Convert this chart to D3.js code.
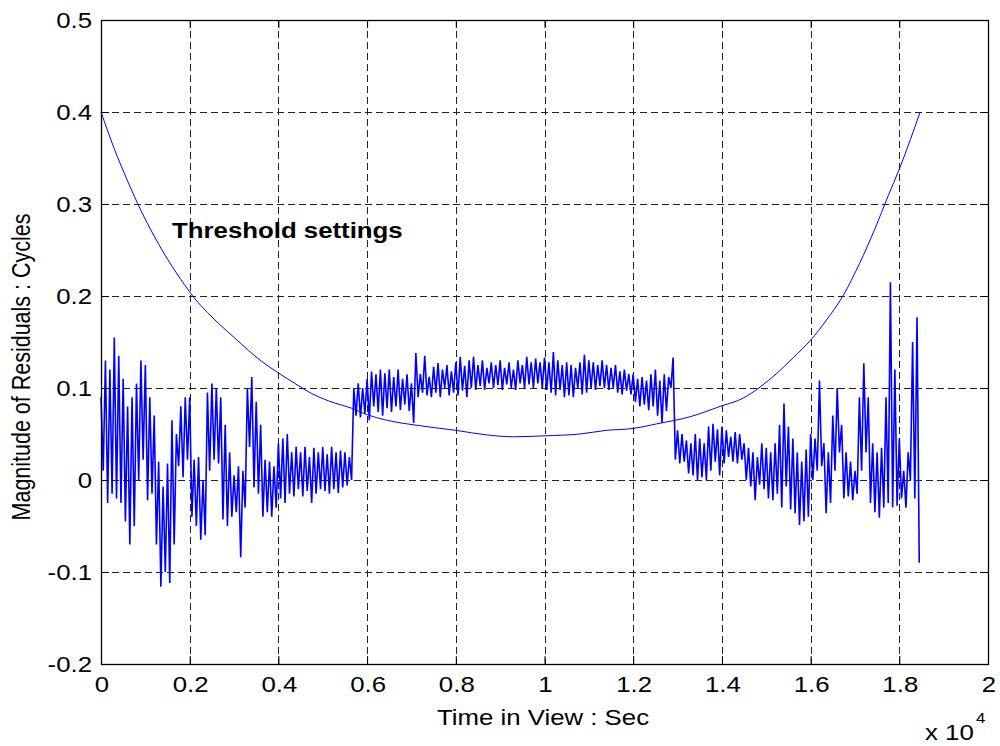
<!DOCTYPE html>
<html>
<head>
<meta charset="utf-8">
<script src="https://cdn.jsdelivr.net/npm/d3@7"></script>
<style>
  body { margin: 0; background: #fff; }
  text { font-family: "Liberation Sans", Arial, Helvetica, sans-serif; fill: #000; }
</style>
</head>
<body>
<svg id="chart" width="1000" height="746"></svg>
<script>
// Axis ticks (time axis in units of 10^4 s)
const xTicks = [0, 0.2, 0.4, 0.6, 0.8, 1, 1.2, 1.4, 1.6, 1.8, 2];
const xTickLabels = ["0", "0.2", "0.4", "0.6", "0.8", "1", "1.2", "1.4", "1.6", "1.8", "2"];
const yTicks = [-0.2, -0.1, 0, 0.1, 0.2, 0.3, 0.4, 0.5];
const yTickLabels = ["-0.2", "-0.1", "0", "0.1", "0.2", "0.3", "0.4", "0.5"];

// Residual magnitude samples (cycles), one every 50 s
const sampleStep = 0.005; // x 10^4 s
const residuals = [
  0.09, 0.01, 0.13, -0.025, 0.12, -0.015, 0.155, -0.02, 0.135, -0.025,
  0.11, -0.045, 0.08, -0.07, 0.09, -0.05, 0.105, 0.0, 0.13, 0.022,
  0.125, -0.022, 0.09, -0.015, 0.07, -0.07, 0.02, -0.116, -0.007, -0.1,
  0.018, -0.112, 0.065, -0.07, 0.05, 0.015, 0.08, 0.003, 0.09, 0.022,
  0.09, -0.04, 0.022, -0.05, 0.025, -0.065, 0.0, -0.06, 0.095, 0.01,
  0.105, 0.022, 0.1, 0.018, 0.09, -0.043, 0.06, -0.05, 0.03, -0.04,
  0.005, -0.035, 0.015, -0.084, 0.01, -0.03, 0.1, 0.036, 0.112, -0.008,
  0.085, -0.015, 0.06, -0.04, 0.022, -0.035, 0.02, -0.04, 0.015, -0.03,
  0.04, -0.02, 0.045, -0.025, 0.05, -0.015, 0.03, -0.018, 0.036, -0.01,
  0.03, -0.018, 0.036, -0.012, 0.025, -0.025, 0.035, -0.015, 0.03, -0.01,
  0.036, -0.012, 0.028, -0.015, 0.036, -0.01, 0.03, -0.014, 0.032, -0.008,
  0.03, -0.006, 0.025, 0.0,
  0.1, 0.07, 0.105, 0.068, 0.1, 0.072,
  0.11, 0.065, 0.118, 0.08, 0.115, 0.074, 0.12, 0.07, 0.116, 0.078,
  0.12, 0.074, 0.112, 0.08, 0.12, 0.076, 0.11, 0.082, 0.115, 0.075,
  0.105, 0.062, 0.138, 0.09, 0.115, 0.095, 0.135, 0.092, 0.112, 0.09,
  0.123, 0.095, 0.127, 0.09, 0.12, 0.1, 0.125, 0.092, 0.118, 0.095,
  0.128, 0.092, 0.134, 0.097, 0.124, 0.09, 0.13, 0.1, 0.134, 0.098,
  0.125, 0.102, 0.13, 0.098, 0.122, 0.105, 0.128, 0.1, 0.125, 0.103,
  0.13, 0.098, 0.122, 0.104, 0.128, 0.1, 0.12, 0.098, 0.13, 0.105,
  0.125, 0.1, 0.134, 0.104, 0.128, 0.1, 0.132, 0.105, 0.128, 0.1,
  0.133, 0.098, 0.128, 0.095, 0.139, 0.092, 0.13, 0.098, 0.125, 0.09,
  0.128, 0.092, 0.125, 0.09, 0.122, 0.1, 0.128, 0.093, 0.136, 0.095,
  0.13, 0.1, 0.128, 0.098, 0.125, 0.102, 0.13, 0.1, 0.125, 0.098,
  0.122, 0.1, 0.125, 0.095, 0.118, 0.093, 0.12, 0.097, 0.115, 0.093,
  0.115, 0.085, 0.11, 0.08, 0.112, 0.082, 0.108, 0.076, 0.115, 0.08,
  0.12, 0.07, 0.108, 0.062, 0.115, 0.075, 0.112, 0.1, 0.133,
  0.022, 0.054, 0.018, 0.05, 0.02, 0.043, 0.007, 0.04, 0.005, 0.05, 0.0,
  0.045, 0.003, 0.04, 0.0, 0.058, 0.01, 0.061, 0.02, 0.055, 0.005,
  0.058, 0.018, 0.054, 0.025, 0.047, 0.02, 0.052, 0.018, 0.05, 0.022,
  0.04, 0.0, 0.035, -0.007, 0.03, -0.022, 0.025, -0.005, 0.04, -0.01,
  0.035, -0.02, 0.03, -0.022, 0.04, -0.015, 0.06, -0.03, 0.083, -0.007,
  0.058, -0.032, 0.045, -0.036, 0.03, -0.049, 0.02, -0.045, 0.033, -0.04,
  0.05, 0.0, 0.045, 0.01, 0.108, 0.015, 0.04, -0.036, 0.03, -0.025,
  0.07, 0.01, 0.1, 0.03, 0.06, -0.02, 0.03, -0.018, 0.02, -0.022,
  0.01, -0.015, 0.09, 0.01, 0.127, 0.03, 0.09, -0.025, 0.04, -0.035,
  0.03, -0.041, 0.035, -0.03, 0.09, -0.025, 0.215, -0.03, 0.12, -0.028,
  0.045, -0.02, 0.01, -0.03, 0.03, 0.0, 0.15, -0.02, 0.177, -0.09
];

// Threshold curve (x 10^4 s, cycles)
const thresholdTime = [0, 0.03, 0.06, 0.09, 0.12, 0.15, 0.18, 0.21, 0.24, 0.27, 0.3, 0.332, 0.362, 0.398,
  0.437, 0.475, 0.513, 0.565, 0.6, 0.644, 0.704, 0.8, 0.87, 0.93, 1.0, 1.08, 1.14, 1.2, 1.253,
  1.33, 1.396, 1.448, 1.486, 1.524, 1.561, 1.6, 1.636, 1.674, 1.71, 1.745, 1.775, 1.8, 1.825, 1.847];
const thresholdValue = [0.4, 0.36, 0.325, 0.293, 0.265, 0.24, 0.218, 0.198, 0.182, 0.168, 0.155, 0.141, 0.129, 0.117,
  0.105, 0.094, 0.086, 0.078, 0.071, 0.065, 0.06, 0.054, 0.049, 0.047, 0.048, 0.05, 0.054, 0.056, 0.061,
  0.069, 0.08, 0.089, 0.101, 0.116, 0.133, 0.152, 0.174, 0.201, 0.235, 0.273, 0.309, 0.338, 0.37, 0.4];

const svg = d3.select("#chart");
const plot = { left: 101, right: 988, top: 20, bottom: 664 };
const x = d3.scaleLinear().domain([0, 2]).range([plot.left, plot.right]);
const y = d3.scaleLinear().domain([-0.2, 0.5]).range([plot.bottom, plot.top]);
const FS = 21.5;      // label font size
const SX = 1.2;       // horizontal stretch of glyphs

svg.append("rect").attr("width", 1000).attr("height", 746).attr("fill", "#fff");

// Dashed grid
const grid = svg.append("g").attr("stroke", "#222").attr("stroke-width", 1)
  .attr("stroke-dasharray", "7,4").attr("fill", "none");
grid.selectAll("line.gx").data(xTicks.slice(1, -1)).join("line")
  .attr("x1", d => Math.round(x(d)) + 0.5).attr("x2", d => Math.round(x(d)) + 0.5)
  .attr("y1", plot.top).attr("y2", plot.bottom);
grid.selectAll("line.gy").data(yTicks.slice(1, -1)).join("line")
  .attr("y1", d => Math.round(y(d)) + 0.5).attr("y2", d => Math.round(y(d)) + 0.5)
  .attr("x1", plot.left).attr("x2", plot.right);

// Series
const residualLine = d3.line().x((d, i) => x(i * sampleStep)).y(d => y(d));
svg.append("path").datum(residuals)
  .attr("d", residualLine).attr("fill", "none")
  .attr("stroke", "#0000ff").attr("stroke-width", 1.6).attr("stroke-linejoin", "bevel");

const thresholdLine = d3.line().curve(d3.curveMonotoneX)
  .x((d, i) => x(thresholdTime[i])).y(d => y(d));
svg.append("path").datum(thresholdValue)
  .attr("d", thresholdLine).attr("fill", "none")
  .attr("stroke", "#0000ff").attr("stroke-width", 1);

// Inward ticks on all four sides
const tickLen = 8;
svg.append("g").attr("transform", `translate(0,${plot.bottom})`)
  .call(d3.axisBottom(x).tickValues(xTicks).tickSize(-tickLen).tickSizeOuter(0).tickFormat(""));
svg.append("g").attr("transform", `translate(0,${plot.top})`)
  .call(d3.axisTop(x).tickValues(xTicks).tickSize(-tickLen).tickSizeOuter(0).tickFormat(""));
svg.append("g").attr("transform", `translate(${plot.left},0)`)
  .call(d3.axisLeft(y).tickValues(yTicks).tickSize(-tickLen).tickSizeOuter(0).tickFormat(""));
svg.append("g").attr("transform", `translate(${plot.right},0)`)
  .call(d3.axisRight(y).tickValues(yTicks).tickSize(-tickLen).tickSizeOuter(0).tickFormat(""));
svg.selectAll(".domain").remove();
svg.selectAll(".tick line").attr("stroke", "#000").attr("stroke-width", 1);

// Axes box
svg.append("rect")
  .attr("x", plot.left + 0.5).attr("y", plot.top + 0.5)
  .attr("width", plot.right - plot.left).attr("height", plot.bottom - plot.top)
  .attr("fill", "none").attr("stroke", "#000").attr("stroke-width", 1.3);

// Text helper: horizontally stretched labels
function label(tx, ty, str, opts = {}) {
  return svg.append("text")
    .attr("transform", `translate(${tx},${ty}) scale(${SX},1)` + (opts.rotate ? ` rotate(${opts.rotate})` : ""))
    .attr("text-anchor", opts.anchor || "start")
    .attr("font-size", opts.size || FS)
    .attr("font-weight", opts.weight || "normal")
    .text(str);
}

xTicks.forEach((t, i) => label(x(t) + 1, 692, xTickLabels[i], { anchor: "middle" }));
yTicks.forEach((t, i) => label(92, y(t) + 8, yTickLabels[i], { anchor: "end" }));

label(543, 725, "Time in View : Sec", { anchor: "middle" });
label(925, 740, "x 10");
label(976, 723, "4", { size: 14 });
label(30, 367, "Magnitude of Residuals : Cycles", { anchor: "middle", rotate: -90 });
label(172, 238, "Threshold settings", { weight: "bold" });
</script>
</body>
</html>
